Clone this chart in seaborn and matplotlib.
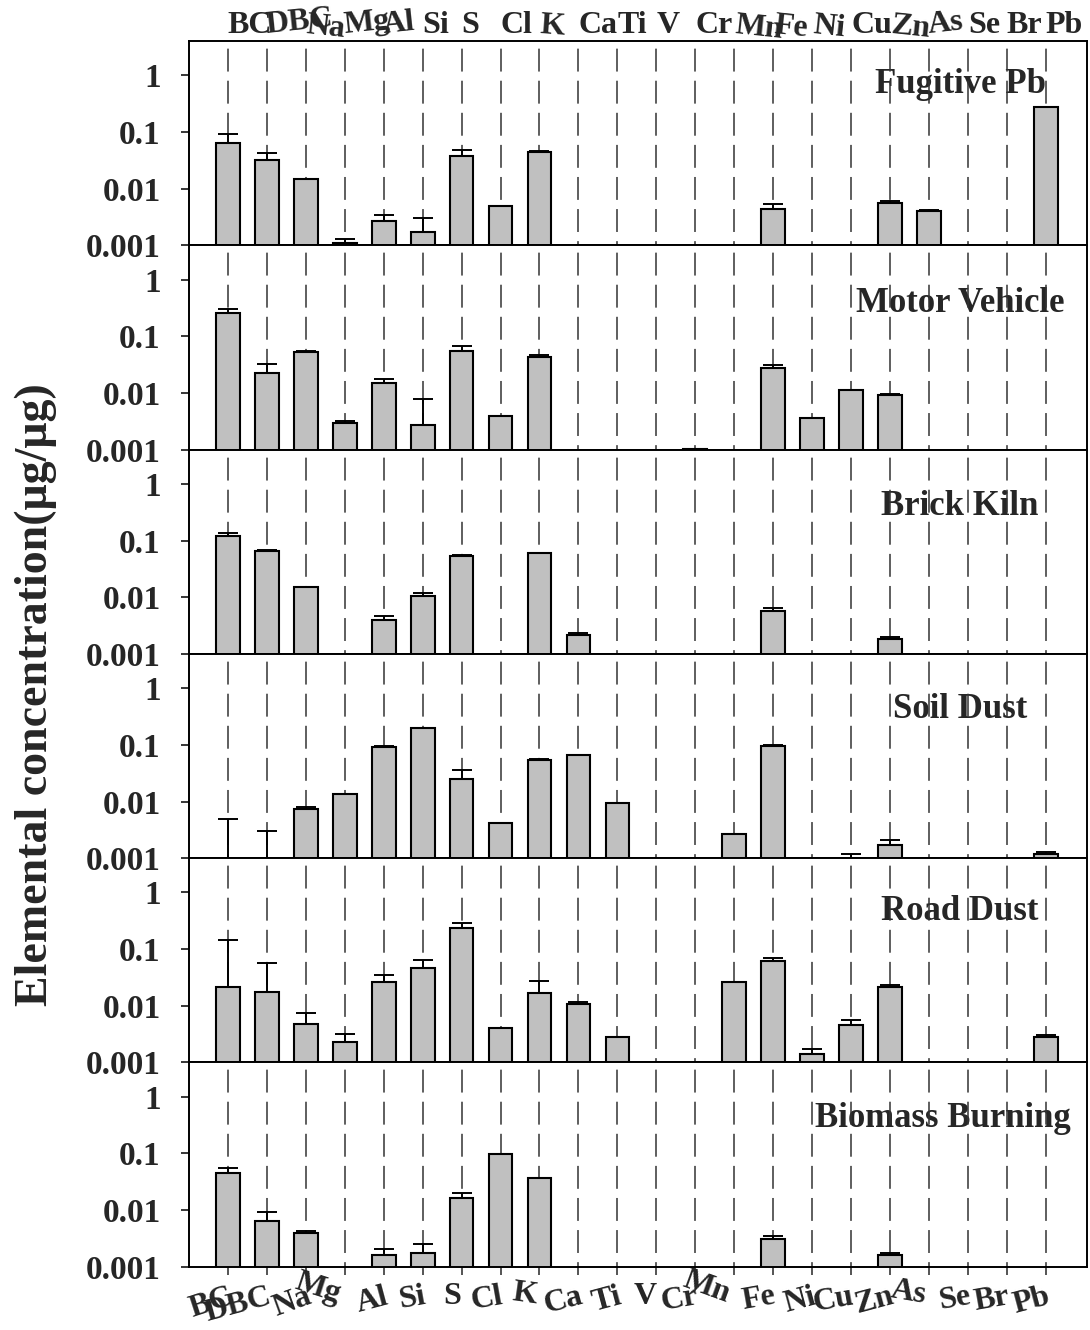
import numpy as np
import pandas as pd
import matplotlib
matplotlib.use("Agg")
import matplotlib.pyplot as plt
from matplotlib.ticker import NullLocator
import seaborn as sns

nan = np.nan

elements = ["BC", "DBC", "Na", "Mg", "Al", "Si", "S", "Cl", "K", "Ca", "Ti",
            "V", "Cr", "Mn", "Fe", "Ni", "Cu", "Zn", "As", "Se", "Br", "Pb"]

sources = ["Fugitive Pb", "Motor Vehicle", "Brick Kiln",
           "Soil Dust", "Road Dust", "Biomass Burning"]

# mass fractions (ug/ug) and upper standard deviations, one entry per element
fugitive_pb = [0.065, 0.0323, 0.0147, 0.00111, 0.00268, 0.00173, 0.0374, 0.0049, 0.044, nan, nan,
               nan, nan, nan, 0.00447, nan, nan, 0.00552, 0.0041, nan, nan, 0.275]
fugitive_pb_sd = [0.026, 0.010, 0.0004, 0.0002, 0.0008, 0.0013, 0.0116, 0.0001, 0.003, nan, nan,
                  nan, nan, nan, 0.0009, nan, nan, 0.0005, 0.0001, nan, nan, nan]

motor_vehicle = [0.261, 0.0229, 0.053, 0.00297, 0.0152, 0.0027, 0.0547, 0.00396, 0.0433, nan, nan,
                 nan, 0.00105, nan, 0.0277, 0.00365, 0.0111, 0.0092, nan, nan, nan, nan]
motor_vehicle_sd = [0.04, 0.010, 0.001, 0.0003, 0.0025, 0.0052, 0.013, nan, 0.0037, nan, nan,
                    nan, nan, nan, 0.003, nan, 0.0002, 0.0004, nan, nan, nan, nan]

brick_kiln = [0.122, 0.0644, 0.0152, nan, 0.0040, 0.0104, 0.0527, nan, 0.061, 0.0022, nan,
              nan, nan, nan, 0.00569, nan, nan, 0.0018, nan, nan, nan, nan]
brick_kiln_sd = [0.014, 0.0035, nan, nan, 0.00075, 0.0014, 0.0037, nan, nan, 0.0001, nan,
                 nan, nan, nan, 0.0008, nan, nan, 0.00023, nan, nan, nan, nan]

soil_dust = [0.0005, 0.0005, 0.0075, 0.0136, 0.093, 0.197, 0.0249, 0.00422, 0.055, 0.0663, 0.00957,
             nan, nan, 0.00263, 0.0968, nan, 0.0006, 0.00172, nan, nan, nan, 0.00121]
soil_dust_sd = [0.0045, 0.0025, 0.0004, 0.0002, 0.002, 0.004, 0.0104, nan, 0.0015, nan, nan,
                nan, nan, nan, 0.001, nan, 0.0006, 0.0004, nan, nan, nan, 0.0001]

road_dust = [0.0216, 0.0176, 0.00484, 0.00234, 0.0265, 0.0467, 0.233, 0.00411, 0.0169, 0.0109, 0.00284,
             nan, nan, 0.0262, 0.0605, 0.00141, 0.00465, 0.0216, nan, nan, nan, 0.00284]
road_dust_sd = [0.122, 0.038, 0.0025, 0.0008, 0.0085, 0.018, 0.057, nan, 0.0104, 0.0009, nan,
                nan, nan, nan, 0.009, 0.0003, 0.0009, 0.0016, nan, nan, nan, 0.0002]

biomass_burning = [0.0449, 0.00628, 0.00396, nan, 0.00163, 0.00172, 0.0161, 0.0968, 0.0366, nan, nan,
                   nan, nan, nan, 0.0031, nan, nan, 0.00163, nan, nan, nan, nan]
biomass_burning_sd = [0.010, 0.0029, 0.0003, nan, 0.0004, 0.0008, 0.0036, nan, 0.0005, nan, nan,
                      nan, nan, nan, 0.0004, nan, nan, 0.0001, nan, nan, nan, nan]

profiles = [fugitive_pb, motor_vehicle, brick_kiln, soil_dust, road_dust, biomass_burning]
profile_sds = [fugitive_pb_sd, motor_vehicle_sd, brick_kiln_sd, soil_dust_sd, road_dust_sd,
               biomass_burning_sd]

y_ticks = [0.001, 0.01, 0.1, 1]
y_ticklabels = ["0.001", "0.01", "0.1", "1"]

# layout / style
title_y = [0.786, 0.714, 0.72, 0.73, 0.74, 0.725]
title_x = [0.859, 0.859, 0.859, 0.859, 0.859, 0.84]
bottom_rot = [18, 15, 20, -18, 15, 10, 0, 10, -8, 15, 15,
              0, 10, -20, 10, 15, 10, 15, -10, 10, 10, 15]
top_rot = [0, 6, -6, 6, 6, 0, 0, 0, -4, 0, 0,
           0, 0, -6, -6, -6, 0, -6, 6, 0, 0, 0]

sns.set_style("ticks")
plt.rcParams["font.family"] = ["Liberation Serif", "DejaVu Serif"]
plt.rcParams["font.weight"] = "bold"
plt.rcParams["axes.linewidth"] = 1.4

fig, axes = plt.subplots(6, 1, figsize=(10.9, 13.3), dpi=100, sharex=True)
fig.subplots_adjust(left=0.173, right=0.997, top=0.969, bottom=0.0476, hspace=0)

for i, ax in enumerate(axes):
    ax.set_yscale("log", nonpositive="clip")
    df = pd.DataFrame({"element": elements, "value": profiles[i]})
    sns.barplot(data=df, x="element", y="value", order=elements, color="#c0c0c0",
                saturation=1, edgecolor="black", linewidth=1.5, width=0.61,
                errorbar=None, ax=ax)
    for bar in ax.patches:
        bar.set_zorder(1)
    ax.set_ylim(1e-3, 4)
    ax.set_xlim(-1.01, 22.05)
    ax.set_xlabel("")
    ax.set_ylabel("")

    xpos = np.arange(len(elements))
    vals = np.array(profiles[i], dtype=float)
    sds = np.array(profile_sds[i], dtype=float)
    m = ~np.isnan(vals) & ~np.isnan(sds)
    ax.errorbar(xpos[m], vals[m], yerr=[np.zeros(m.sum()), sds[m]], fmt="none",
                ecolor="black", elinewidth=1.4, capsize=7, capthick=1.4, zorder=3)

    # dashed guide lines through every element position
    for xp in xpos:
        ax.plot([xp, xp], [1, 0], transform=ax.get_xaxis_transform(), color="#333333",
                lw=1.1, ls=(16, (15, 6)), zorder=0.8)

    ax.text(title_x[i], title_y[i], sources[i], transform=ax.transAxes, ha="center",
            va="center", fontsize=25, fontweight="bold", zorder=0.5)

    ax.set_yticks(y_ticks)
    ax.set_yticklabels(y_ticklabels)
    ax.yaxis.set_minor_locator(NullLocator())
    ax.tick_params(axis="y", direction="out", length=6, width=1.3, labelsize=24, pad=14)
    ax.tick_params(axis="x", direction="out", length=4, width=1.1, labelbottom=False)
    for sp in ax.spines.values():
        sp.set_visible(True)
        sp.set_color("black")

bottom = axes[-1]
bottom.set_xticks(np.arange(len(elements)))
bottom.set_xticklabels(elements)
bottom.tick_params(axis="x", length=6, labelbottom=True, labelsize=23, pad=5)
for lab, rot in zip(bottom.get_xticklabels(), bottom_rot):
    lab.set_rotation(rot)
    lab.set_ha("right")
    lab.set_va("top")
    lab.set_rotation_mode("anchor")

top = axes[0]
top.tick_params(axis="x", top=False, labeltop=True, labelsize=23, pad=2)
for tk, rot in zip(top.xaxis.get_major_ticks(), top_rot):
    tk.label2.set_rotation(rot)
    tk.label2.set_ha("left")
    tk.label2.set_va("baseline")
    tk.label2.set_rotation_mode("anchor")

fig.text(0.033, 0.478, "Elemental concentration(μg/μg)", rotation=90, ha="center",
         va="center", fontsize=33, fontweight="bold")

fig.savefig("out.png", dpi=100)
